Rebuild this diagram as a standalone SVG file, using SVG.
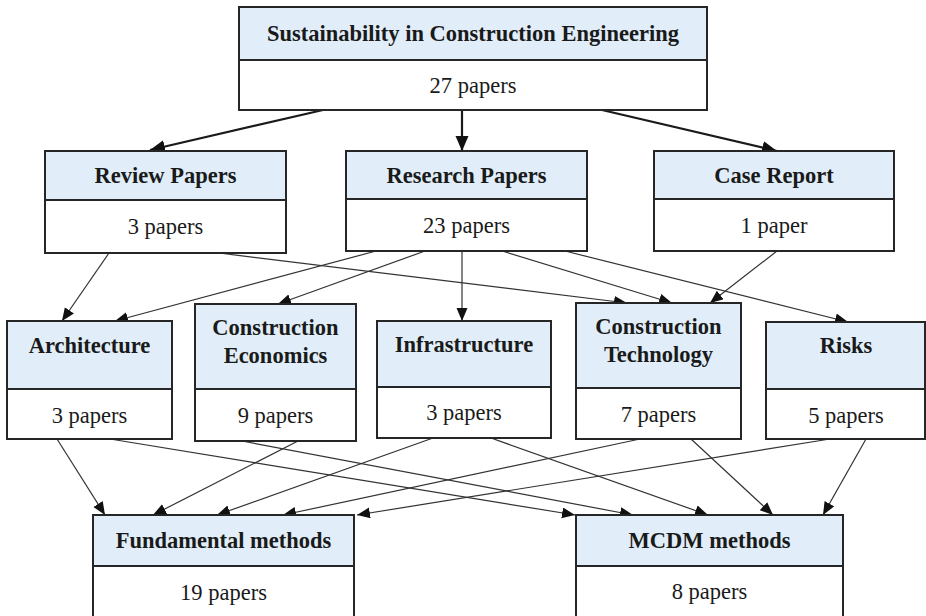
<svg xmlns="http://www.w3.org/2000/svg" width="926" height="616" viewBox="0 0 926 616">
<style>
.hd{fill:#e1eef9;stroke:#262626;stroke-width:2}
.bd{fill:#ffffff;stroke:#262626;stroke-width:2}
.t{font-family:"Liberation Serif","Times New Roman",serif;font-size:22.5px;fill:#1a1a1a;text-anchor:middle}
.b{font-weight:bold}
.c{fill:none;stroke:#333;stroke-width:1.2}
.ct{fill:none;stroke:#1a1a1a;stroke-width:2.2}
</style>
<defs>
<marker id="a" markerUnits="userSpaceOnUse" markerWidth="14" markerHeight="12" refX="13" refY="5.5" orient="auto" viewBox="0 0 14 12">
<path d="M0,0 L13,5.5 L0,11 z" fill="#111"/>
</marker>
<marker id="A" markerUnits="userSpaceOnUse" markerWidth="16" markerHeight="14" refX="15" refY="6.5" orient="auto" viewBox="0 0 16 14">
<path d="M0,0 L15,6.5 L0,13 z" fill="#111"/>
</marker>
</defs>
<rect width="926" height="616" fill="#fff"/>

<g id="connectors">
<line class="ct" x1="323" y1="110" x2="150" y2="150" marker-end="url(#A)"/>
<line class="ct" x1="462" y1="110" x2="462" y2="151" marker-end="url(#A)"/>
<line class="ct" x1="602" y1="110" x2="777" y2="151" marker-end="url(#A)"/>

<line class="c" x1="109" y1="253" x2="62" y2="321" marker-end="url(#a)"/>
<line class="c" x1="219" y1="253" x2="627" y2="303" marker-end="url(#a)"/>
<line class="c" x1="376" y1="251" x2="115" y2="321" marker-end="url(#a)"/>
<line class="c" x1="425" y1="251" x2="278" y2="304" marker-end="url(#a)"/>
<line class="c" x1="462" y1="251" x2="462" y2="321" marker-end="url(#a)"/>
<line class="c" x1="502" y1="251" x2="672" y2="303" marker-end="url(#a)"/>
<line class="c" x1="565" y1="251" x2="848" y2="322" marker-end="url(#a)"/>
<line class="c" x1="777" y1="251" x2="710" y2="303" marker-end="url(#a)"/>

<line class="c" x1="57" y1="439" x2="105" y2="515" marker-end="url(#a)"/>
<line class="c" x1="298" y1="441" x2="153" y2="515" marker-end="url(#a)"/>
<line class="c" x1="433" y1="438" x2="217" y2="515" marker-end="url(#a)"/>
<line class="c" x1="640" y1="439" x2="283" y2="515" marker-end="url(#a)"/>
<line class="c" x1="830" y1="439" x2="357" y2="515" marker-end="url(#a)"/>

<line class="c" x1="110" y1="439" x2="575" y2="515" marker-end="url(#a)"/>
<line class="c" x1="242" y1="441" x2="633" y2="515" marker-end="url(#a)"/>
<line class="c" x1="491" y1="438" x2="708" y2="515" marker-end="url(#a)"/>
<line class="c" x1="691" y1="439" x2="773" y2="515" marker-end="url(#a)"/>
<line class="c" x1="866" y1="439" x2="823" y2="515" marker-end="url(#a)"/>
</g>

<g id="sustainability">
<rect class="hd" x="239" y="7" width="468" height="53"/>
<rect class="bd" x="239" y="60" width="468" height="50"/>
<text class="t b" x="473" y="41">Sustainability in Construction Engineering</text>
<text class="t" x="473" y="93">27 papers</text>
</g>

<g id="review">
<rect class="hd" x="45" y="151" width="241" height="49"/>
<rect class="bd" x="45" y="200" width="241" height="53"/>
<text class="t b" x="165.5" y="183">Review Papers</text>
<text class="t" x="165.5" y="234">3 papers</text>
</g>

<g id="research">
<rect class="hd" x="346" y="151" width="241" height="48"/>
<rect class="bd" x="346" y="199" width="241" height="52"/>
<text class="t b" x="466.5" y="183">Research Papers</text>
<text class="t" x="466.5" y="233">23 papers</text>
</g>

<g id="case">
<rect class="hd" x="654" y="151" width="240" height="48"/>
<rect class="bd" x="654" y="199" width="240" height="52"/>
<text class="t b" x="774" y="183">Case Report</text>
<text class="t" x="774" y="233">1 paper</text>
</g>

<g id="architecture">
<rect class="hd" x="7" y="321" width="165" height="68"/>
<rect class="bd" x="7" y="389" width="165" height="50"/>
<text class="t b" x="89.5" y="353">Architecture</text>
<text class="t" x="89.5" y="423">3 papers</text>
</g>

<g id="economics">
<rect class="hd" x="195" y="304" width="161" height="85"/>
<rect class="bd" x="195" y="389" width="161" height="52"/>
<text class="t b" x="275.5" y="335">Construction</text>
<text class="t b" x="275.5" y="363">Economics</text>
<text class="t" x="275.5" y="423">9 papers</text>
</g>

<g id="infrastructure">
<rect class="hd" x="377" y="321" width="174" height="66"/>
<rect class="bd" x="377" y="387" width="174" height="51"/>
<text class="t b" x="464" y="352">Infrastructure</text>
<text class="t" x="464" y="420">3 papers</text>
</g>

<g id="technology">
<rect class="hd" x="576" y="303" width="165" height="85"/>
<rect class="bd" x="576" y="388" width="165" height="51"/>
<text class="t b" x="658.5" y="334">Construction</text>
<text class="t b" x="658.5" y="362">Technology</text>
<text class="t" x="658.5" y="422">7 papers</text>
</g>

<g id="risks">
<rect class="hd" x="766" y="322" width="159" height="67"/>
<rect class="bd" x="766" y="389" width="159" height="50"/>
<text class="t b" x="846" y="353">Risks</text>
<text class="t" x="846" y="423">5 papers</text>
</g>

<g id="fundamental">
<rect class="hd" x="93" y="515" width="261" height="51"/>
<rect class="bd" x="93" y="566" width="261" height="60"/>
<text class="t b" x="223.5" y="548">Fundamental methods</text>
<text class="t" x="223.5" y="600">19 papers</text>
</g>

<g id="mcdm">
<rect class="hd" x="576" y="515" width="267" height="51"/>
<rect class="bd" x="576" y="566" width="267" height="60"/>
<text class="t b" x="709.5" y="548">MCDM methods</text>
<text class="t" x="709.5" y="599">8 papers</text>
</g>
</svg>
